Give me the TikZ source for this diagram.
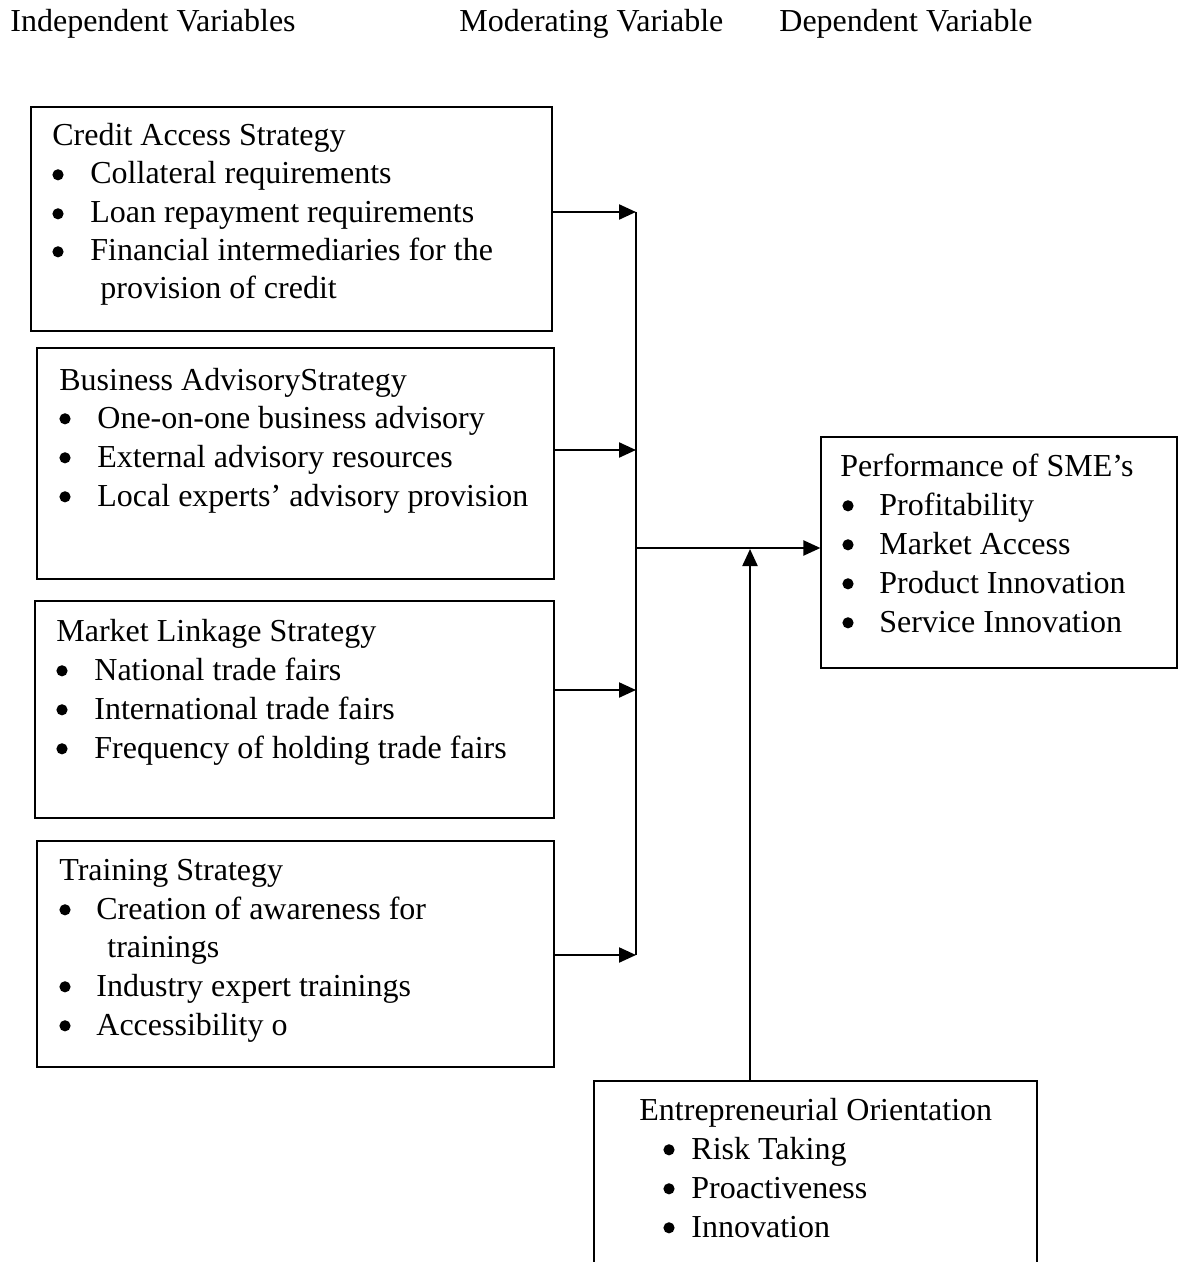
\documentclass[tikz,border=0pt]{standalone}
\usepackage{fontspec}
\setmainfont{Liberation Serif}
\usetikzlibrary{arrows.meta,fit}
\begin{document}
\begin{tikzpicture}[x=0.5pt,y=-0.5pt,
  box/.style={draw, line width=0.6pt, inner sep=0pt},
  txt/.style={anchor=base west, inner sep=0pt, font=\fontsize{16pt}{19.5pt}\selectfont},
  bul/.style={circle, fill, draw=none, inner sep=0pt, minimum size=5.6pt, yshift=4.6pt},
  conn/.style={line width=1.1pt},
  arr/.style={conn, -{Triangle[length=8.5pt,width=7.5pt]}}]
\useasboundingbox (0,0) rectangle (1181,1262);
\fill[white] (0,0) rectangle (1181,1262);

% headers
\node[txt] (h1) at (10,32) {Independent Variables};
\node[txt] (h2) at (459,32) {Moderating Variable};
\node[txt] (h3) at (779,32) {Dependent Variable};

% box corners
\coordinate (b1nw) at (31,107);  \coordinate (b1se) at (552,331);
\coordinate (b2nw) at (37,348);  \coordinate (b2se) at (554,579);
\coordinate (b3nw) at (35,601);  \coordinate (b3se) at (554,818);
\coordinate (b4nw) at (37,841);  \coordinate (b4se) at (554,1067);
\coordinate (pnw) at (821,437);  \coordinate (pse) at (1177,668);
\coordinate (enw) at (594,1081); \coordinate (ese) at (1037,1300);

\node[box, fit=(b1nw)(b1se)] (b1) {};
\node[box, fit=(b2nw)(b2se)] (b2) {};
\node[box, fit=(b3nw)(b3se)] (b3) {};
\node[box, fit=(b4nw)(b4se)] (b4) {};
\node[box, fit=(pnw)(pse)] (perf) {};
\node[box, fit=(enw)(ese)] (eo) {};

% box 1
\node[txt] (b1t) at (52,146) {Credit Access Strategy};
\node[bul] (b1d1) at (58,184) {}; \node[txt] (b1l1) at (90,184) {Collateral requirements};
\node[bul] (b1d2) at (58,223) {}; \node[txt] (b1l2) at (90,223) {Loan repayment requirements};
\node[bul] (b1d3) at (58,261) {}; \node[txt] (b1l3) at (90,261) {Financial intermediaries for the};
\node[txt] (b1l4) at (100,299) {provision of credit};

% box 2
\node[txt] (b2t) at (59,390) {Business AdvisoryStrategy};
\node[bul] (b2d1) at (65,428) {}; \node[txt] (b2l1) at (97,428) {One-on-one business advisory};
\node[bul] (b2d2) at (65,467) {}; \node[txt] (b2l2) at (97,467) {External advisory resources};
\node[bul] (b2d3) at (65,506) {}; \node[txt] (b2l3) at (97,506) {Local experts’ advisory provision};

% box 3
\node[txt] (b3t) at (56,641) {Market Linkage Strategy};
\node[bul] (b3d1) at (62,680) {}; \node[txt] (b3l1) at (94,680) {National trade fairs};
\node[bul] (b3d2) at (62,719) {}; \node[txt] (b3l2) at (94,719) {International trade fairs};
\node[bul] (b3d3) at (62,758) {}; \node[txt] (b3l3) at (94,758) {Frequency of holding trade fairs};

% box 4
\node[txt] (b4t) at (59,880) {Training Strategy};
\node[bul] (b4d1) at (65,919) {}; \node[txt] (b4l1) at (96,919) {Creation of awareness for};
\node[txt] (b4l2) at (107,957) {trainings};
\node[bul] (b4d3) at (65,996) {}; \node[txt] (b4l3) at (96,996) {Industry expert trainings};
\node[bul] (b4d4) at (65,1035) {}; \node[txt] (b4l4) at (96,1035) {Accessibility o};

% performance
\node[txt] (pt) at (840,476) {Performance of SME’s};
\node[bul] (pd1) at (848,515) {}; \node[txt] (pl1) at (879,515) {Profitability};
\node[bul] (pd2) at (848,554) {}; \node[txt] (pl2) at (879,554) {Market Access};
\node[bul] (pd3) at (848,593) {}; \node[txt] (pl3) at (879,593) {Product Innovation};
\node[bul] (pd4) at (848,632) {}; \node[txt] (pl4) at (879,632) {Service Innovation};

% entrepreneurial orientation
\node[txt] (et) at (639,1120) {Entrepreneurial Orientation};
\node[bul] (ed1) at (669,1159) {}; \node[txt] (el1) at (691,1159) {Risk Taking};
\node[bul] (ed2) at (669,1198) {}; \node[txt] (el2) at (691,1198) {Proactiveness};
\node[bul] (ed3) at (669,1237) {}; \node[txt] (el3) at (691,1237) {Innovation};

% connectors
\coordinate (jt) at (636,212);
\coordinate (j2) at (636,450);
\coordinate (j3) at (636,690);
\coordinate (jb) at (636,955);
\coordinate (jm) at (636,548);
\coordinate (mm) at (750,549);

\draw[conn] (jt) -- (jb);
\draw[arr] (b1.east |- jt) -- (jt);
\draw[arr] (b2.east |- j2) -- (j2);
\draw[arr] (b3.east |- j3) -- (j3);
\draw[arr] (b4.east |- jb) -- (jb);
\draw[arr] (jm) -- (perf.west |- jm);
\draw[arr] (mm |- eo.north) -- (mm);
\end{tikzpicture}
\end{document}
